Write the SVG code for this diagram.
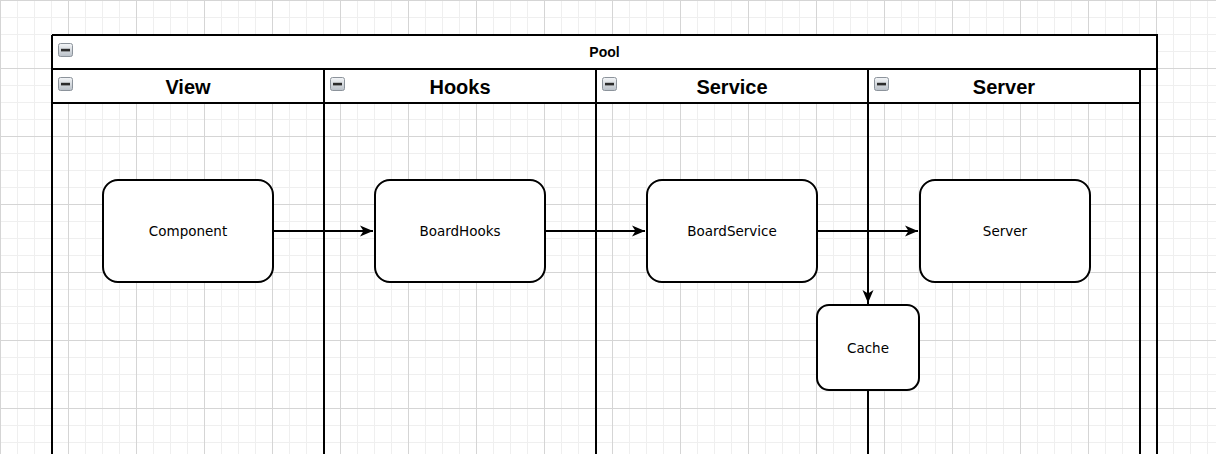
<svg xmlns="http://www.w3.org/2000/svg" width="1216" height="454" viewBox="0 0 1216 454">
<style>
.lane{fill:none;stroke:#000;stroke-width:2}
.hdr{fill:#fff;stroke:none}
.node rect{fill:#fff;stroke:#000;stroke-width:2}
.node text{font-family:"DejaVu Sans",sans-serif;font-size:13.5px;text-anchor:middle;fill:#000}
.title{font-family:"Liberation Sans",Arial,sans-serif;font-weight:bold;text-anchor:middle;fill:#000}
.edge{fill:none;stroke:#000;stroke-width:2}
</style>
<defs>
<pattern id="minor" width="17" height="17" patternUnits="userSpaceOnUse" x="0" y="0">
<path d="M0.5 0V17M0 0.5H17" stroke="#efefef" stroke-width="1" fill="none"/>
</pattern>
<pattern id="major" width="68" height="68" patternUnits="userSpaceOnUse" x="0" y="0">
<path d="M0.5 0V68M0 0.5H68" stroke="#d5d5d5" stroke-width="1" fill="none"/>
</pattern>
<linearGradient id="ig" x1="0" y1="0" x2="0" y2="1">
<stop offset="0" stop-color="#f4f6f8"/>
<stop offset="1" stop-color="#b9c0c8"/>
</linearGradient>
<g id="icon">
<rect x="0.5" y="0.5" width="14" height="13" rx="2" fill="url(#ig)" stroke="#8c939b"/>
<rect x="3" y="5.8" width="9" height="2.6" fill="#2b2b2b"/>
</g>
<marker id="arr" markerWidth="14" markerHeight="12" refX="13" refY="6" orient="auto" markerUnits="userSpaceOnUse">
<path d="M0 0.5L13 6L0 11.5L3.5 6Z" fill="#000"/>
</marker>
</defs>
<rect width="1216" height="454" fill="#fff"/>
<rect width="1216" height="454" fill="url(#minor)"/>
<rect width="1216" height="454" fill="url(#major)"/>

<g id="pool">
<rect class="hdr" x="52" y="35" width="1105" height="34"/>
<path class="lane" d="M52 35H1157V470M52 35V470M52 69H1157"/>
<use href="#icon" x="58" y="43"/>
<text class="title" x="604.5" y="57" font-size="14">Pool</text>
</g>

<g id="lane-view">
<rect class="hdr" x="52" y="69" width="272" height="34"/>
<path class="lane" d="M52 69V470M52 103H324M324 69V470"/>
<use href="#icon" x="58" y="77"/>
<text class="title" x="188" y="94" font-size="20">View</text>
</g>
<g id="lane-hooks">
<rect class="hdr" x="324" y="69" width="272" height="34"/>
<path class="lane" d="M324 69V470M324 103H596M596 69V470"/>
<use href="#icon" x="330" y="77"/>
<text class="title" x="460" y="94" font-size="20">Hooks</text>
</g>
<g id="lane-service">
<rect class="hdr" x="596" y="69" width="272" height="34"/>
<path class="lane" d="M596 69V470M596 103H868M868 69V470"/>
<use href="#icon" x="602" y="77"/>
<text class="title" x="732" y="94" font-size="20">Service</text>
</g>
<g id="lane-server">
<rect class="hdr" x="868" y="69" width="272" height="34"/>
<path class="lane" d="M868 69V470M868 103H1140M1140 69V470"/>
<use href="#icon" x="874" y="77"/>
<text class="title" x="1004" y="94" font-size="20">Server</text>
</g>
<path class="lane" d="M52 69H1157"/>

<g id="connectors">
<path class="edge" d="M273 231H373" marker-end="url(#arr)"/>
<path class="edge" d="M545 231H645" marker-end="url(#arr)"/>
<path class="edge" d="M817 231H918" marker-end="url(#arr)"/>
<path class="edge" d="M817 231H868V303" marker-end="url(#arr)"/>
</g>

<g id="component" class="node">
<rect x="103" y="180" width="170" height="102" rx="15"/>
<text x="188" y="236">Component</text>
</g>
<g id="boardhooks" class="node">
<rect x="375" y="180" width="170" height="102" rx="15"/>
<text x="460" y="236">BoardHooks</text>
</g>
<g id="boardservice" class="node">
<rect x="647" y="180" width="170" height="102" rx="15"/>
<text x="732" y="236">BoardService</text>
</g>
<g id="server" class="node">
<rect x="920" y="180" width="170" height="102" rx="15"/>
<text x="1005" y="236">Server</text>
</g>
<g id="cache" class="node">
<rect x="817" y="305" width="102" height="85" rx="12"/>
<text x="868" y="353">Cache</text>
</g>
</svg>
